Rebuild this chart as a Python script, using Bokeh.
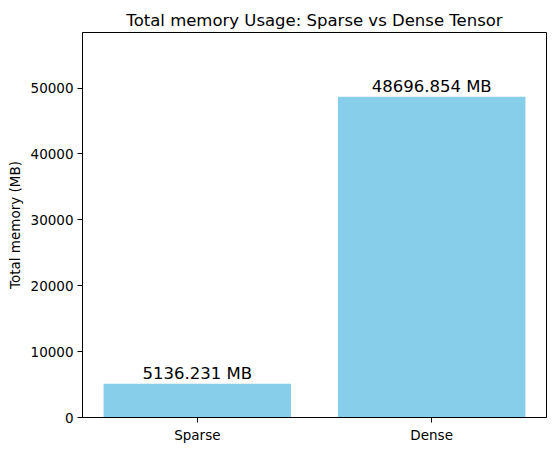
from bokeh.plotting import figure
from bokeh.models import Range1d, FixedTicker, ColumnDataSource
from bokeh.core.properties import value
from bokeh.embed import file_html
from bokeh.resources import INLINE

categories = ["Sparse", "Dense"]
memory_mb = [5136.231, 48696.854]
y_ticks = [0, 10000, 20000, 30000, 40000, 50000]

xs = list(range(len(categories)))
labels = [f"{v:.3f} MB" for v in memory_mb]
src = ColumnDataSource(dict(x=xs, top=memory_mb, label=labels))

FONT = "DejaVu Sans"

p = figure(
    frame_width=464, frame_height=385,
    x_range=Range1d(-0.49, len(categories) - 1 + 0.49),
    y_range=Range1d(0, max(memory_mb) * 1.2),
    output_backend="svg", toolbar_location=None,
    title="Total memory Usage: Sparse vs Dense Tensor",
    min_border_left=82, min_border_right=9, min_border_top=32, min_border_bottom=30,
)
p.vbar(x="x", top="top", width=0.8, source=src, color="#87CEEB", line_color=None)
p.text(x="x", y="top", text="label", source=src, text_align="center", text_baseline="bottom",
       y_offset=-1, text_font=value(FONT), text_font_size="16.5px", text_color="black")

p.title.align = "center"
p.title.text_font = FONT
p.title.text_font_size = "16.5px"
p.title.text_font_style = "normal"
p.title.text_color = "black"
p.title.standoff = 5

p.xgrid.visible = False
p.ygrid.visible = False
p.outline_line_color = "black"
p.outline_line_alpha = 1.0
p.outline_line_width = 1

p.xaxis.ticker = FixedTicker(ticks=xs)
p.xaxis.major_label_overrides = {i: c for i, c in enumerate(categories)}
p.yaxis.ticker = FixedTicker(ticks=y_ticks)
p.yaxis.formatter.use_scientific = False
p.yaxis.axis_label = "Total memory (MB)"

for ax in (p.xaxis, p.yaxis):
    ax.axis_line_color = "black"
    ax.major_tick_line_color = "black"
    ax.major_tick_out = 5
    ax.major_tick_in = 0
    ax.minor_tick_line_color = None
    ax.major_label_text_font = FONT
    ax.major_label_text_font_size = "13.5px"
    ax.major_label_text_color = "black"
    ax.axis_label_text_font = FONT
    ax.axis_label_text_font_size = "13.5px"
    ax.axis_label_text_font_style = "normal"
    ax.axis_label_text_color = "black"
    ax.major_label_standoff = 4
p.yaxis.axis_label_standoff = 5

open("out.html", "w").write(file_html(p, INLINE))
